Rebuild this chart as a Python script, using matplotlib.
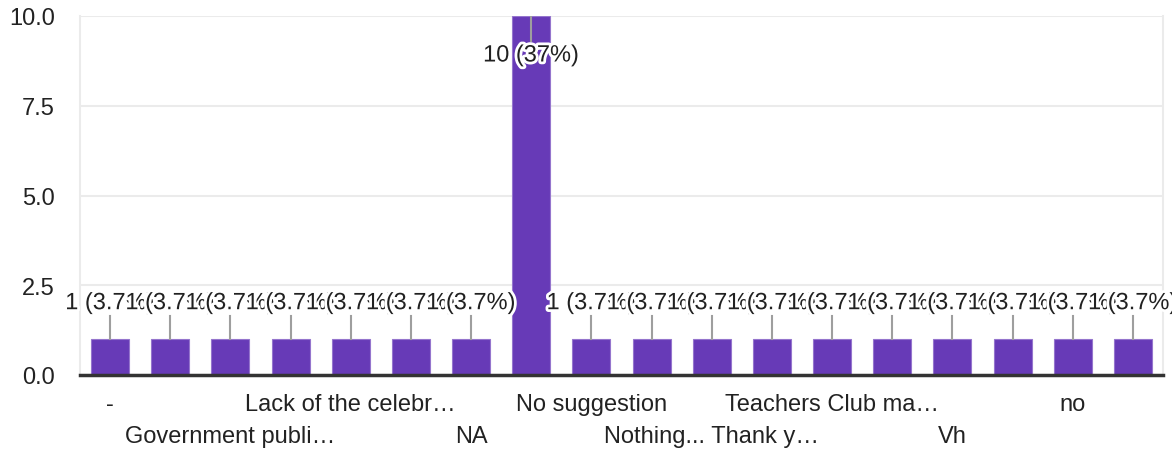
import matplotlib.pyplot as plt
import matplotlib.patheffects as pe
import numpy as np

plt.rcParams['font.family'] = ['Liberation Sans', 'DejaVu Sans']

# responses (only every other label is visible in the chart)
categories = ['-', '', 'Government publi…', '', 'Lack of the celebr…', '', 'NA', '',
              'No suggestion', '', 'Nothing... Thank y…', '', 'Teachers Club ma…', '',
              'Vh', '', 'no', '']
counts = [1, 1, 1, 1, 1, 1, 1, 10, 1, 1, 1, 1, 1, 1, 1, 1, 1, 1]
yticks = [0, 2.5, 5, 7.5, 10]

total = sum(counts)
x = np.arange(len(counts))

fig = plt.figure(figsize=(11.72, 4.52), dpi=100)
ax = fig.add_axes([80 / 1172, 1 - 376 / 452, (1163 - 80) / 1172, (376 - 17) / 452])

ax.bar(x, counts, width=0.63, color='#673ab7', edgecolor='#9575cd', linewidth=0.8, zorder=2)

fs = 17
halo = [pe.withStroke(linewidth=4, foreground='white')]
for xi, v in zip(x, counts):
    pct = v / total * 100
    label = f"{v} ({pct:.0f}%)" if pct >= 10 else f"{v} ({pct:.1f}%)"
    if v > 8:
        ax.plot([xi, xi], [v, v - 0.7], color='#9e9e9e', lw=1.5, zorder=3)
        ax.text(xi, v - 1.1, label, ha='center', va='center', fontsize=fs,
                color='#212121', path_effects=halo, zorder=4)
    else:
        ax.plot([xi, xi], [v, v + 0.64], color='#9e9e9e', lw=1.5, zorder=3)
        ax.text(xi, v + 1.0, label, ha='center', va='center', fontsize=fs,
                color='#212121', path_effects=halo, zorder=4)

ax.set_xlim(-0.5, len(counts) - 0.5)
ax.set_ylim(0, 10)
ax.set_yticks(yticks)
ax.set_yticklabels([f"{t:.1f}" for t in yticks])
ax.grid(axis='y', color='#ebebeb', lw=1.5, zorder=0)
ax.set_axisbelow(True)

shown = x[::2]
ax.set_xticks(shown)
ax.set_xticklabels([categories[i] for i in shown])
for k, tick in enumerate(ax.xaxis.get_major_ticks()):
    tick.set_pad(13 if k % 2 == 0 else 36)

ax.tick_params(axis='both', length=0, labelsize=fs, colors='#222222')
ax.tick_params(axis='y', pad=18)

for side in ['left', 'right', 'top']:
    ax.spines[side].set_color('#ebebeb')
    ax.spines[side].set_linewidth(1.5)
ax.spines['top'].set_visible(False)
ax.spines['bottom'].set_color('#333333')
ax.spines['bottom'].set_linewidth(2.5)
ax.spines['bottom'].set_zorder(5)

fig.savefig('out.png', dpi=100)
